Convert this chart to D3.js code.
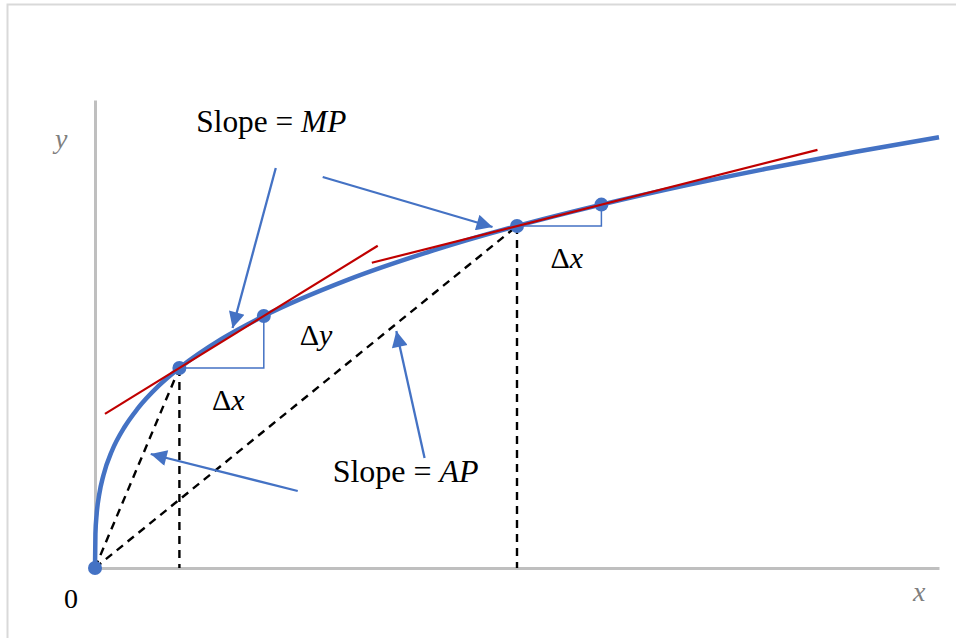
<!DOCTYPE html>
<html>
<head>
<meta charset="utf-8">
<script src="https://cdn.jsdelivr.net/npm/d3@7"></script>
<style>
  html, body { margin: 0; padding: 0; background: #fff; }
  svg { display: block; }
  text { font-family: "Liberation Serif", "Times New Roman", serif; }
</style>
</head>
<body>
<svg id="chart" width="956" height="638"></svg>
<script>
// Total product curve, read as (input, output) pairs
const curveX = [0, 0.005, 0.02, 0.05, 0.1, 0.2, 0.35, 0.5, 0.75, 1, 1.5, 2, 3, 4, 5, 6, 7, 8, 9, 10];
const curveY = [0, 0.171, 0.271, 0.368, 0.464, 0.585, 0.705, 0.794, 0.909, 1, 1.145, 1.26, 1.442, 1.587, 1.71, 1.817, 1.913, 2, 2.08, 2.154];

// Marked points on the curve
const pointX = [0, 1, 2, 5, 6];
const pointY = [0, 1, 1.26, 1.71, 1.817];

// Secant lines (slope = MP): [x0, x1] through pairs of marked points
const mpPairs = [[1, 2], [5, 6]];
const mpSpans = [[0.118, 3.35], [3.28, 8.56]];

// Rays from the origin (slope = AP) and drop lines
const apPoints = [1, 5];

// Arrows: [fromX, fromY, toX, toY]
const arrows = [
  [2.142, 2.0, 1.63, 1.2],
  [2.698, 1.955, 4.71, 1.705],
  [3.905, 0.55, 3.57, 1.185],
  [2.402, 0.385, 0.66, 0.57]
];

// Text labels
const labels = [
  {parts: [["Slope = ", false], ["MP", true]], x: 1.2, y: 2.18, size: 32, width: 150},
  {parts: [["Slope = ", false], ["AP", true]], x: 2.816, y: 0.43, size: 32, width: 146},
  {parts: [["Δ", false], ["y", true]], x: 2.426, y: 1.115, size: 30},
  {parts: [["Δ", false], ["x", true]], x: 1.385, y: 0.79, size: 30},
  {parts: [["Δ", false], ["x", true]], x: 5.396, y: 1.5, size: 30}
];

const xDomain = [0, 10];
const yDomain = [0, 2.34];

const svg = d3.select("#chart");
const blue = "#4472c4", red = "#c00000", grey = "#bfbfbf";

// Outer frame
svg.append("rect").attr("x", 7.5).attr("y", 4.5).attr("width", 960).attr("height", 640)
  .attr("fill", "none").attr("stroke", "#d9d9d9").attr("stroke-width", 2);

const x = d3.scaleLinear().domain(xDomain).range([95, 939]);
const y = d3.scaleLinear().domain(yDomain).range([568, 100]);

// Axes as bare grey lines
const xAxis = svg.append("g").attr("transform", `translate(0,${y(0)})`)
  .call(d3.axisBottom(x).tickValues([]).tickSizeOuter(0));
const yAxis = svg.append("g").attr("transform", `translate(${x(0)},0)`)
  .call(d3.axisLeft(y).tickValues([]).tickSizeOuter(0));
[xAxis, yAxis].forEach(g => g.select(".domain").attr("stroke", grey).attr("stroke-width", 3));

svg.append("text").attr("x", 55).attr("y", y(2.1)).attr("font-size", 28)
  .attr("font-style", "italic").attr("fill", "#7f7f7f").text("y");
svg.append("text").attr("x", 913).attr("y", y(0) + 33).attr("font-size", 28)
  .attr("font-style", "italic").attr("fill", "#7f7f7f").text("x");
svg.append("text").attr("x", 64).attr("y", y(0) + 40).attr("font-size", 28)
  .attr("fill", "#000").text("0");

// Dashed AP rays and drop lines
const dash = "8,6";
apPoints.forEach(px => {
  const i = pointX.indexOf(px);
  svg.append("line").attr("x1", x(0)).attr("y1", y(0)).attr("x2", x(px)).attr("y2", y(pointY[i]))
    .attr("stroke", "#000").attr("stroke-width", 2.4).attr("stroke-dasharray", dash);
  svg.append("line").attr("x1", x(px)).attr("y1", y(pointY[i])).attr("x2", x(px)).attr("y2", y(0))
    .attr("stroke", "#000").attr("stroke-width", 2.4).attr("stroke-dasharray", dash);
});

// Δx / Δy steps
mpPairs.forEach(([a, b]) => {
  const ia = pointX.indexOf(a), ib = pointX.indexOf(b);
  svg.append("path")
    .attr("d", `M${x(a)},${y(pointY[ia])}H${x(b)}V${y(pointY[ib])}`)
    .attr("fill", "none").attr("stroke", blue).attr("stroke-width", 1.5);
});

// Total product curve
const line = d3.line().x(d => x(d[0])).y(d => y(d[1])).curve(d3.curveMonotoneX);
svg.append("path").datum(curveX.map((v, i) => [v, curveY[i]]))
  .attr("d", line).attr("fill", "none").attr("stroke", blue).attr("stroke-width", 4.5);

// Points
svg.selectAll("circle.pt").data(pointX.map((v, i) => [v, pointY[i]])).join("circle")
  .attr("class", "pt").attr("cx", d => x(d[0])).attr("cy", d => y(d[1])).attr("r", 7)
  .attr("fill", blue);

// Secant (MP) lines
mpPairs.forEach(([a, b], k) => {
  const ia = pointX.indexOf(a), ib = pointX.indexOf(b);
  const s = (pointY[ib] - pointY[ia]) / (b - a);
  const [x0, x1] = mpSpans[k];
  svg.append("line")
    .attr("x1", x(x0)).attr("y1", y(pointY[ia] + s * (x0 - a)))
    .attr("x2", x(x1)).attr("y2", y(pointY[ia] + s * (x1 - a)))
    .attr("stroke", red).attr("stroke-width", 2.2);
});

// Arrows with filled triangular heads
svg.append("defs").append("marker").attr("id", "head")
  .attr("viewBox", "0 0 10 10").attr("refX", 10).attr("refY", 5)
  .attr("markerUnits", "userSpaceOnUse").attr("markerWidth", 19).attr("markerHeight", 16)
  .attr("orient", "auto")
  .append("path").attr("d", "M0,0L10,5L0,10Z").attr("fill", blue);
arrows.forEach(([fx, fy, tx, ty]) => {
  svg.append("line").attr("x1", x(fx)).attr("y1", y(fy)).attr("x2", x(tx)).attr("y2", y(ty))
    .attr("stroke", blue).attr("stroke-width", 2.3).attr("marker-end", "url(#head)");
});

// Labels
labels.forEach(l => {
  const t = svg.append("text").attr("x", x(l.x)).attr("y", y(l.y))
    .attr("font-size", l.size).attr("fill", "#000");
  if (l.width) t.attr("textLength", l.width).attr("lengthAdjust", "spacingAndGlyphs");
  l.parts.forEach(([s, it]) => t.append("tspan").attr("font-style", it ? "italic" : "normal").text(s));
});
</script>
</body>
</html>
